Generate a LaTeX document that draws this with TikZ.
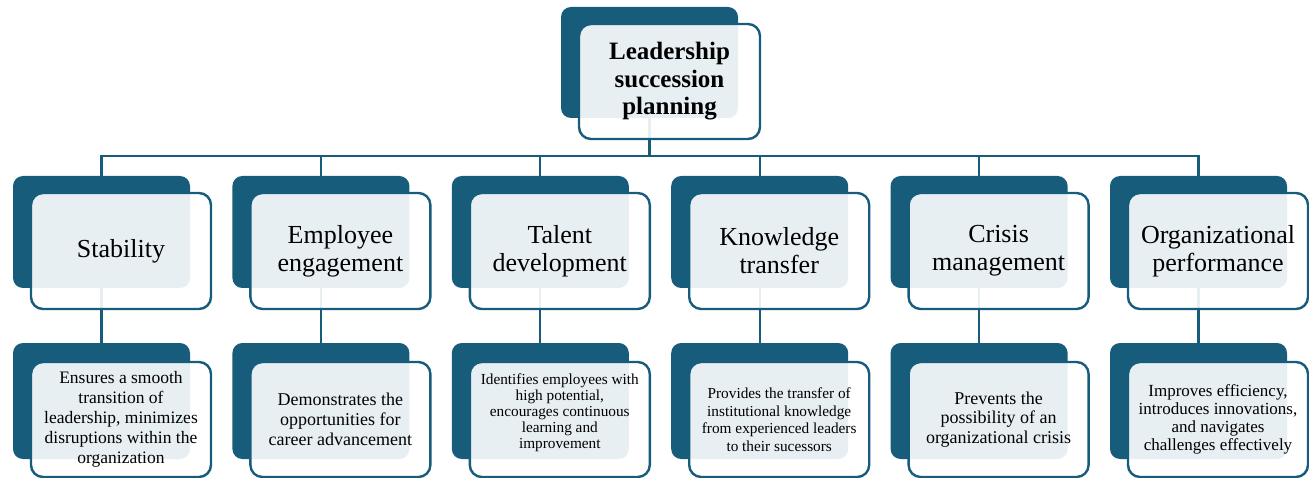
\documentclass[tikz,border=0pt]{standalone}
\usepackage{fontspec}
\setmainfont{Liberation Serif}
\usetikzlibrary{backgrounds}
\definecolor{deep}{RGB}{24,92,124}
\begin{document}
\begin{tikzpicture}[x=1pt,y=-1pt,
  darkbox/.style={draw=none,fill=deep,rounded corners=10pt,anchor=north west,minimum width=177pt,inner sep=0pt,outer sep=0pt},
  lightbox/.style={draw=deep,line width=2.4pt,fill=white,fill opacity=0.9,text opacity=1,rounded corners=12pt,anchor=north west,minimum width=180pt,inner sep=2pt,outer sep=0pt,align=center,text=black},
  headtxt/.style={font=\fontsize{25}{27.5}\selectfont\bfseries},
  midtxt/.style={font=\fontsize{26}{28}\selectfont},
  conn/.style={draw=deep,line width=2.2pt}]
\useasboundingbox (0,0) rectangle (1309,478);

% top
\node[darkbox,minimum height=111pt] (td) at (561,7) {};
\node[lightbox,minimum height=115pt,minimum width=181pt,headtxt] (tl) at (579,24) {Leadership\\succession\\planning};

% level 2 dark
\node[darkbox,minimum height=112pt] (d1) at (13,176) {};
\node[darkbox,minimum height=112pt] (d2) at (232.4,176) {};
\node[darkbox,minimum height=112pt] (d3) at (451.8,176) {};
\node[darkbox,minimum height=112pt] (d4) at (671.2,176) {};
\node[darkbox,minimum height=112pt] (d5) at (890.6,176) {};
\node[darkbox,minimum height=112pt] (d6) at (1110,176) {};
% level 2 light
\node[lightbox,minimum height=116pt,midtxt] (l1) at (31,193) {Stability};
\node[lightbox,minimum height=116pt,midtxt] (l2) at (250.4,193) {Employee\\engagement};
\node[lightbox,minimum height=116pt,midtxt] (l3) at (469.8,193) {Talent\\development};
\node[lightbox,minimum height=116pt,midtxt] (l4) at (689.2,193) {Knowledge\\transfer};
\node[lightbox,minimum height=116pt,midtxt] (l5) at (908.6,193) {Crisis\\management};
\node[lightbox,minimum height=116pt,midtxt] (l6) at (1128,193) {Organizational\\performance};

% level 3 dark
\node[darkbox,minimum height=116pt] (e1) at (13,343) {};
\node[darkbox,minimum height=116pt] (e2) at (232.4,343) {};
\node[darkbox,minimum height=116pt] (e3) at (451.8,343) {};
\node[darkbox,minimum height=116pt] (e4) at (671.2,343) {};
\node[darkbox,minimum height=116pt] (e5) at (890.6,343) {};
\node[darkbox,minimum height=116pt] (e6) at (1110,343) {};
% level 3 light
\node[lightbox,minimum height=115pt,font=\fontsize{17.5}{20}\selectfont] (m1) at (31,362)
  {Ensures a smooth\\transition of\\leadership, minimizes\\disruptions within the\\organization};
\node[lightbox,minimum height=115pt,font=\fontsize{18}{20}\selectfont] (m2) at (250.4,362)
  {Demonstrates the\\opportunities for\\career advancement};
\node[lightbox,minimum height=115pt] (m3) at (469.8,362) {};
\node[font=\fontsize{15.3}{16}\selectfont,align=center,inner sep=0pt] (t3) at ([yshift=7pt]m3.center)
  {Identifies employees with\\high potential,\\encourages continuous\\learning and\\improvement};
\node[lightbox,minimum height=115pt,font=\fontsize{15.3}{17.5}\selectfont] (m4) at (689.2,362)
  {Provides the transfer of\\institutional knowledge\\from experienced leaders\\to their sucessors};
\node[lightbox,minimum height=115pt,font=\fontsize{18}{19.5}\selectfont] (m5) at (908.6,362)
  {Prevents the\\possibility of an\\organizational crisis};
\node[lightbox,minimum height=115pt,font=\fontsize{17}{18}\selectfont] (m6) at (1128,362)
  {Improves efficiency,\\introduces innovations,\\and navigates\\challenges effectively};

\coordinate (bus) at (650,156);
\begin{pgfonlayer}{background}
  \draw[conn] (td.south) -- (td.south |- bus);
  \draw[conn] ([xshift=-1.1pt]d1.north |- bus) -- ([xshift=1.1pt]d6.north |- bus);
  \foreach \i in {1,...,6} {
    \draw[conn] (d\i.north |- bus) -- (d\i.north);
    \draw[conn] (d\i.south) -- (e\i.north);
  }
\end{pgfonlayer}
\end{tikzpicture}
\end{document}
